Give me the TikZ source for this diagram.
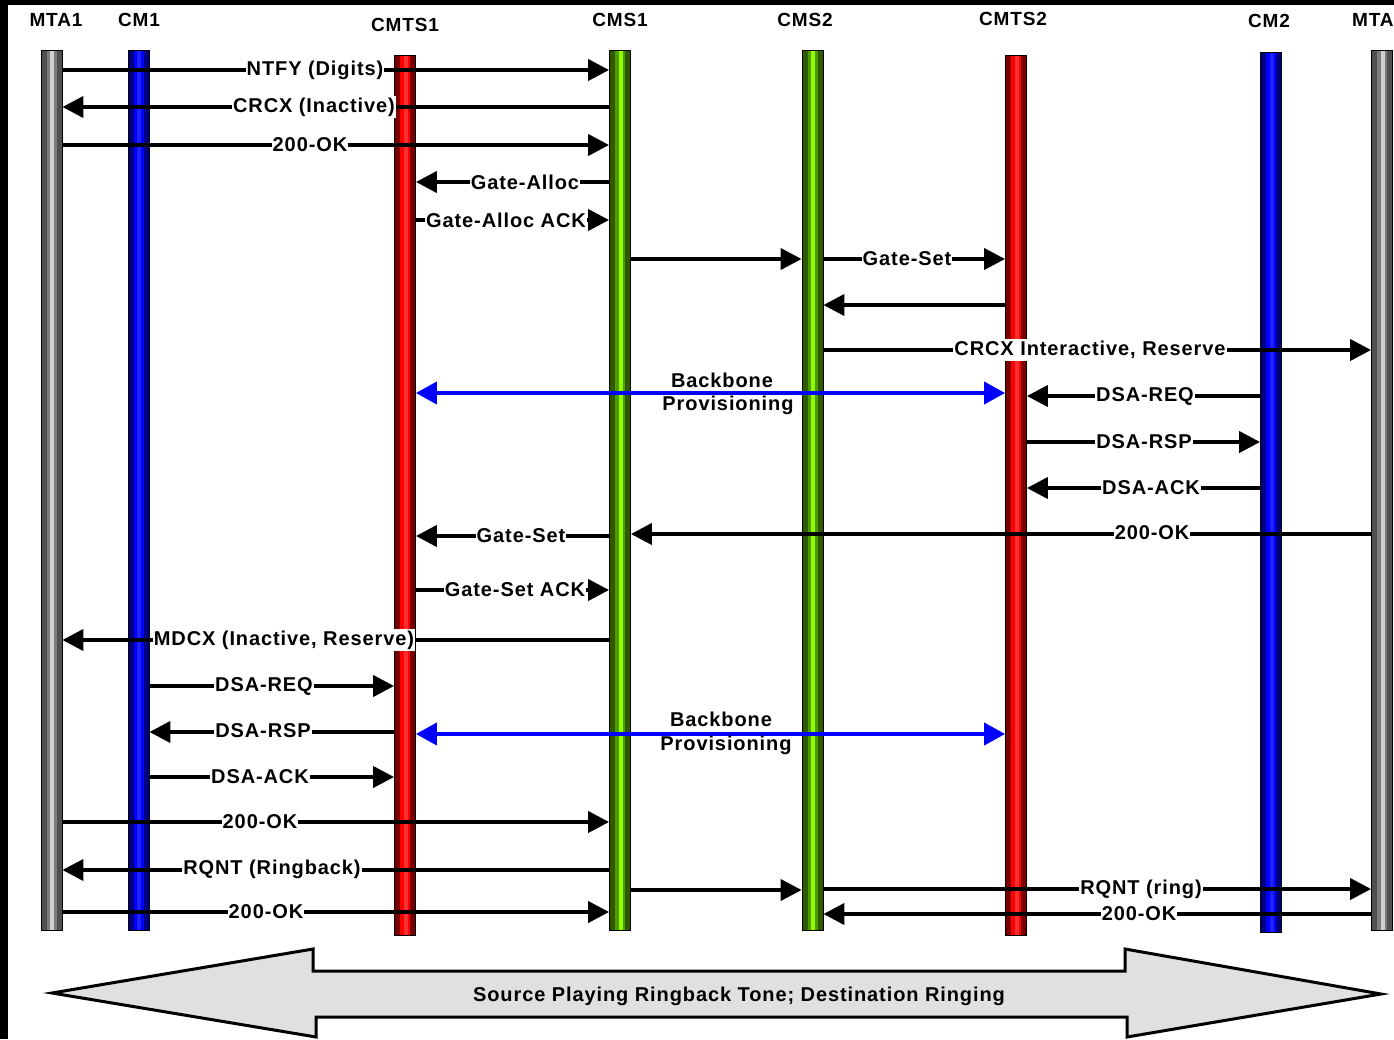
\documentclass[tikz,border=0pt]{standalone}
\usepackage{fontspec}
\setmainfont{Liberation Sans}[LetterSpace=4.5]
\usetikzlibrary{arrows.meta}
\definecolor{graydark}{HTML}{505050}
\definecolor{graymid}{HTML}{7C7C7C}
\definecolor{graylight}{HTML}{D0D0D0}
\definecolor{bluedark}{HTML}{000080}
\definecolor{bluebright}{HTML}{0000FF}
\definecolor{bluelight}{HTML}{2020FF}
\definecolor{reddark}{HTML}{7A0000}
\definecolor{redbright}{HTML}{FF0000}
\definecolor{redlight}{HTML}{FF3030}
\definecolor{greendark}{HTML}{2F5A00}
\definecolor{greenmid}{HTML}{4E9A00}
\definecolor{greenbright}{HTML}{8CFF00}
\definecolor{arrowfill}{HTML}{E0E0E0}
\definecolor{provblue}{HTML}{0000FF}
\begin{document}
\begin{tikzpicture}[x=1pt,y=-1pt,
  lbar/.style n args={3}{draw=black, line width=0.8pt, minimum width=21pt, inner sep=0pt, anchor=north, fill=#1,
    path picture={
      \fill[#2] ([xshift=-5pt]path picture bounding box.north) rectangle ([xshift=5pt]path picture bounding box.south);
      \fill[#3] ([xshift=-1.5pt]path picture bounding box.north) rectangle ([xshift=2.5pt]path picture bounding box.south);}},
  graybar/.style={lbar={graydark}{graymid}{graylight}},
  bluebar/.style={lbar={bluedark}{bluebright}{bluelight}},
  redbar/.style={lbar={reddark}{redbright}{redlight}},
  greenbar/.style={lbar={greendark}{greenmid}{greenbright}},
  head/.style={font=\fontsize{19pt}{21pt}\selectfont\bfseries, inner sep=0pt},
  msg/.style={draw=black, line width=4pt, -{Triangle[length=21pt,width=21pt]}},
  prov/.style={draw=provblue, line width=4pt, {Triangle[length=21pt,width=22pt]}-{Triangle[length=21pt,width=22pt]}},
  lbl/.style={font=\fontsize{20pt}{22pt}\selectfont\bfseries, fill=white, inner xsep=1pt, inner ysep=2pt},
  plbl/.style={font=\fontsize{20pt}{22pt}\selectfont\bfseries, inner sep=0pt},
  bigarrow/.style={draw=black, line width=3pt, fill=arrowfill, line join=miter}
]
\useasboundingbox (0,0) rectangle (1394,1039);
\fill[black] (0,0) rectangle (1394,1039);
\fill[white] (8,5) rectangle (1394,1039);

% headers
\node[head] (hmta1) at (56,20) {MTA1};
\node[head] (hcm1) at (139,20) {CM1};
\node[head] (hcmts1) at (405,25) {CMTS1};
\node[head] (hcms1) at (620,20) {CMS1};
\node[head] (hcms2) at (805,20) {CMS2};
\node[head] (hcmts2) at (1013,19) {CMTS2};
\node[head] (hcm2) at (1269,21) {CM2};
\node[head, anchor=west] (hmta2) at (1352,20) {MTA};

% lifelines
\node[graybar, minimum height=880pt] (mta1) at (51.5,50) {};
\node[bluebar, minimum height=880pt] (cm1) at (138.5,50) {};
\node[redbar, minimum height=880pt] (cmts1) at (405,55) {};
\node[greenbar, minimum height=880pt] (cms1) at (620,50) {};
\node[greenbar, minimum height=880pt] (cms2) at (812.5,50) {};
\node[redbar, minimum height=880pt] (cmts2) at (1016,55) {};
\node[bluebar, minimum height=880pt] (cm2) at (1271,52) {};
\node[graybar, minimum height=880pt] (mta2) at (1382,50) {};

% messages
\draw[msg] (mta1.east |- 0,70) -- (cms1.west |- 0,70);
\draw[msg] (cms1.west |- 0,107) -- (mta1.east |- 0,107);
\draw[msg] (mta1.east |- 0,145) -- (cms1.west |- 0,145);
\draw[msg] (cms1.west |- 0,182) -- (cmts1.east |- 0,182);
\draw[msg] (cmts1.east |- 0,220) -- (cms1.west |- 0,220);
\draw[msg] (cms1.east |- 0,259) -- (cms2.west |- 0,259);
\draw[msg] (cms2.east |- 0,259) -- (cmts2.west |- 0,259);
\draw[msg] (cmts2.west |- 0,305) -- (cms2.east |- 0,305);
\draw[msg] (cms2.east |- 0,350) -- (mta2.west |- 0,350);
\draw[prov] (cmts1.east |- 0,393) -- (cmts2.west |- 0,393);
\draw[msg] (cm2.west |- 0,396) -- (cmts2.east |- 0,396);
\draw[msg] (cmts2.east |- 0,442) -- (cm2.west |- 0,442);
\draw[msg] (cm2.west |- 0,488) -- (cmts2.east |- 0,488);
\draw[msg] (mta2.west |- 0,534) -- (cms1.east |- 0,534);
\draw[msg] (cms1.west |- 0,536) -- (cmts1.east |- 0,536);
\draw[msg] (cmts1.east |- 0,590) -- (cms1.west |- 0,590);
\draw[msg] (cms1.west |- 0,640) -- (mta1.east |- 0,640);
\draw[msg] (cm1.east |- 0,686) -- (cmts1.west |- 0,686);
\draw[msg] (cmts1.west |- 0,732) -- (cm1.east |- 0,732);
\draw[prov] (cmts1.east |- 0,734) -- (cmts2.west |- 0,734);
\draw[msg] (cm1.east |- 0,777) -- (cmts1.west |- 0,777);
\draw[msg] (mta1.east |- 0,822) -- (cms1.west |- 0,822);
\draw[msg] (cms1.west |- 0,870) -- (mta1.east |- 0,870);
\draw[msg] (cms1.east |- 0,890) -- (cms2.west |- 0,890);
\draw[msg] (cms2.east |- 0,889) -- (mta2.west |- 0,889);
\draw[msg] (mta1.east |- 0,912) -- (cms1.west |- 0,912);
\draw[msg] (mta2.west |- 0,914) -- (cms2.east |- 0,914);

% labels
\node[lbl] (l1) at (315,70) {NTFY (Digits)};
\node[lbl] (l2) at (314,107) {CRCX (Inactive)};
\node[lbl] (l3) at (310,145) {200-OK};
\node[lbl] (l4) at (525,182) {Gate-Alloc};
\node[lbl] (l5) at (506,220) {Gate-Alloc ACK};
\node[lbl] (l7) at (907,259) {Gate-Set};
\node[lbl] (l9) at (1090,350) {CRCX Interactive, Reserve};
\node[plbl] (pa1) at (722,380) {Backbone};
\node[plbl] (pa2) at (728,405) {Provisioning};
\node[lbl] (l10) at (1145,396) {DSA-REQ};
\node[lbl] (l11) at (1144,442) {DSA-RSP};
\node[lbl] (l12) at (1151,488) {DSA-ACK};
\node[lbl] (l13) at (1152,533) {200-OK};
\node[lbl] (l14) at (521,536) {Gate-Set};
\node[lbl] (l15) at (515,590) {Gate-Set ACK};
\node[lbl] (l16) at (284,640) {MDCX (Inactive, Reserve)};
\node[lbl] (l17) at (264,686) {DSA-REQ};
\node[lbl] (l18) at (263,731) {DSA-RSP};
\node[plbl] (pb1) at (721,719) {Backbone};
\node[plbl] (pb2) at (726,745) {Provisioning};
\node[lbl] (l19) at (260,777) {DSA-ACK};
\node[lbl] (l20) at (260,822) {200-OK};
\node[lbl] (l21) at (272,869) {RQNT (Ringback)};
\node[lbl] (l23) at (1141,889) {RQNT (ring)};
\node[lbl] (l24) at (266,912) {200-OK};
\node[lbl] (l25) at (1139,914) {200-OK};

% bottom double arrow
\draw[bigarrow] (52,993) -- (313,949) -- (313,971) -- (1125,971) -- (1125,949) -- (1381,994)
  -- (1127,1037) -- (1127,1017) -- (316,1017) -- (316,1037) -- cycle;
\node[plbl] (banner) at (739,996) {Source Playing Ringback Tone; Destination Ringing};
\end{tikzpicture}
\end{document}
